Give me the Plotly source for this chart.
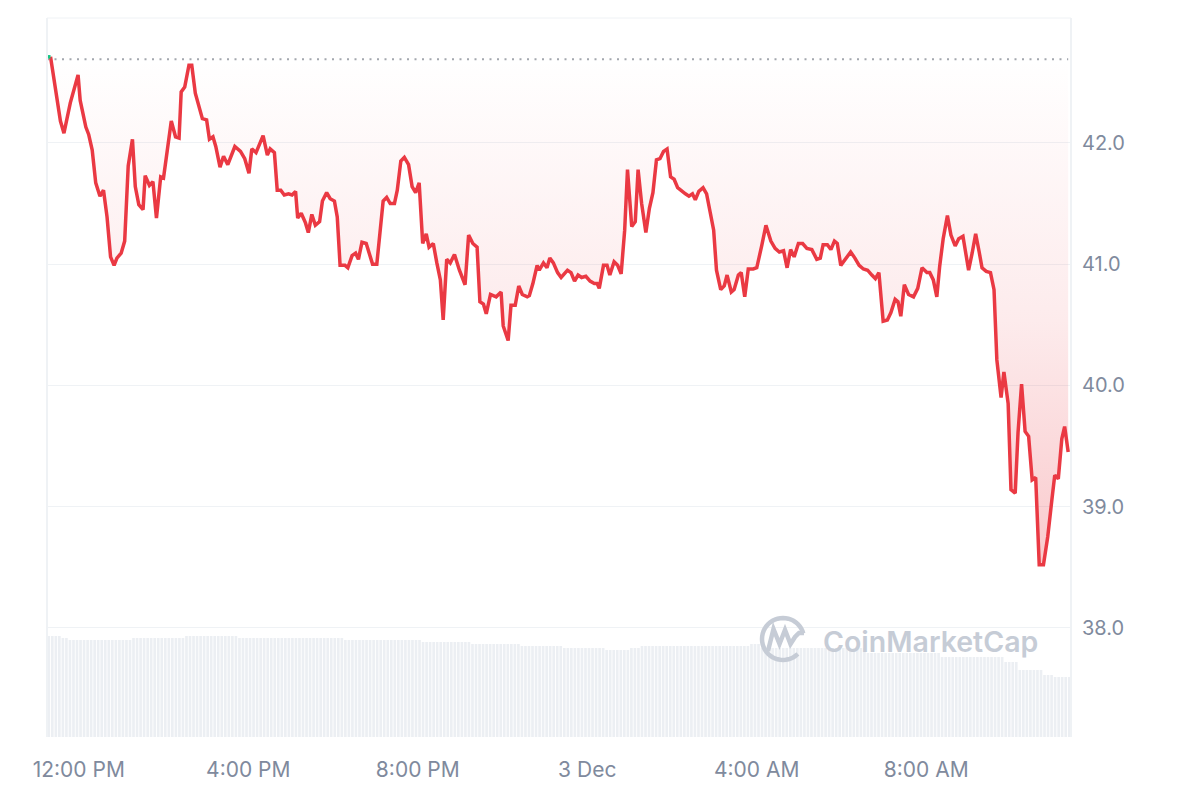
import math
import pandas as pd
import plotly.graph_objects as go

# ---------------- data ----------------
times_dec2 = [
    "11:15", "11:20", "11:34", "11:39", "11:48", "11:59", "12:02", "12:10", "12:14", "12:19",
    "12:24", "12:30", "12:35", "12:40", "12:45", "12:50", "12:54", "13:00", "13:05", "13:10",
    "13:16", "13:20", "13:25", "13:31", "13:34", "13:40", "13:45", "13:50", "13:56", "14:00",
    "14:05", "14:11", "14:17", "14:22", "14:25", "14:30", "14:36", "14:40", "14:45", "14:51",
    "14:55", "15:01", "15:05", "15:10", "15:14", "15:20", "15:25", "15:31", "15:41", "15:49",
    "15:55", "16:01", "16:05", "16:11", "16:21", "16:27", "16:31", "16:37", "16:41", "16:46",
    "16:51", "16:57", "17:02", "17:07", "17:10", "17:15", "17:21", "17:25", "17:30", "17:35",
    "17:41", "17:45", "17:51", "17:56", "18:02", "18:06", "18:10", "18:17", "18:21", "18:27",
    "18:32", "18:36", "18:41", "18:47", "18:51", "18:56", "19:02", "19:11", "19:16", "19:21",
    "19:27", "19:31", "19:36", "19:41", "19:47", "19:52", "19:57", "20:02", "20:07", "20:12",
    "20:16", "20:22", "20:27", "20:32", "20:36", "20:41", "20:46", "20:52", "20:59", "21:07",
    "21:12", "21:18", "21:24", "21:28", "21:33", "21:37", "21:43", "21:51", "21:58", "22:01",
    "22:08", "22:12", "22:18", "22:23", "22:28", "22:35", "22:38", "22:43", "22:49", "22:52",
    "22:58", "23:03", "23:07", "23:12", "23:18", "23:23", "23:29", "23:32", "23:37", "23:42",
    "23:47", "23:52", "23:58",
]
price_dec2 = [
    42.71, 42.71, 42.18, 42.08, 42.33, 42.56, 42.35, 42.13, 42.07, 41.94,
    41.67, 41.56, 41.61, 41.39, 41.06, 40.99, 41.05, 41.09, 41.19, 41.81,
    42.03, 41.64, 41.49, 41.45, 41.73, 41.65, 41.68, 41.38, 41.72, 41.71,
    41.94, 42.18, 42.05, 42.04, 42.42, 42.46, 42.64, 42.64, 42.41, 42.27,
    42.20, 42.19, 42.03, 42.05, 41.97, 41.80, 41.89, 41.82, 41.97, 41.93,
    41.87, 41.75, 41.95, 41.92, 42.06, 41.90, 41.95, 41.92, 41.61, 41.61,
    41.57, 41.58, 41.57, 41.60, 41.38, 41.42, 41.34, 41.26, 41.41, 41.32,
    41.35, 41.52, 41.59, 41.54, 41.52, 41.39, 40.99, 40.99, 40.97, 41.07,
    41.09, 41.04, 41.18, 41.17, 41.10, 41.00, 41.00, 41.52, 41.55, 41.50,
    41.50, 41.61, 41.85, 41.88, 41.82, 41.64, 41.59, 41.67, 41.17, 41.25,
    41.14, 41.17, 41.01, 40.87, 40.54, 41.04, 41.01, 41.08, 40.95, 40.83,
    41.24, 41.17, 41.14, 40.69, 40.67, 40.59, 40.75, 40.73, 40.77, 40.49,
    40.37, 40.66, 40.66, 40.82, 40.75, 40.73, 40.74, 40.84, 40.99, 40.95,
    41.01, 40.97, 41.05, 41.01, 40.93, 40.89, 40.93, 40.95, 40.93, 40.86,
    40.91, 40.89, 40.90,
]
times_dec3 = [
    "00:04", "00:10", "00:14", "00:17", "00:23", "00:28", "00:32", "00:38", "00:43", "00:48",
    "00:53", "00:57", "01:03", "01:08", "01:12", "01:17", "01:23", "01:28", "01:33", "01:38",
    "01:43", "01:48", "01:53", "01:58", "02:03", "02:08", "02:12", "02:19", "02:24", "02:29",
    "02:33", "02:38", "02:44", "02:49", "02:54", "02:59", "03:03", "03:09", "03:14", "03:18",
    "03:24", "03:28", "03:34", "03:38", "03:43", "03:48", "03:55", "04:00", "04:07", "04:13",
    "04:20", "04:26", "04:32", "04:38", "04:43", "04:48", "04:53", "04:59", "05:05", "05:11",
    "05:18", "05:25", "05:30", "05:34", "05:40", "05:45", "05:50", "05:54", "05:59", "06:05",
    "06:13", "06:19", "06:25", "06:31", "06:37", "06:43", "06:48", "06:53", "06:59", "07:05",
    "07:10", "07:16", "07:20", "07:24", "07:29", "07:35", "07:42", "07:48", "07:54", "08:01",
    "08:05", "08:10", "08:15", "08:19", "08:24", "08:30", "08:35", "08:41", "08:46", "08:52",
    "08:56", "09:00", "09:05", "09:10", "09:15", "09:19", "09:25", "09:31", "09:36", "09:40",
    "09:46", "09:50", "09:56", "10:00", "10:06", "10:10", "10:15", "10:20", "10:25", "10:30",
    "10:35", "10:40", "10:46", "10:52", "10:58", "11:02", "11:07", "11:12", "11:16", "11:21",
]
price_dec3 = [
    40.86, 40.84, 40.84, 40.80, 40.99, 40.99, 40.91, 41.02, 40.99, 40.92,
    41.28, 41.78, 41.31, 41.35, 41.78, 41.50, 41.26, 41.46, 41.59, 41.86,
    41.87, 41.93, 41.95, 41.72, 41.70, 41.63, 41.61, 41.58, 41.56, 41.58,
    41.53, 41.60, 41.63, 41.58, 41.43, 41.28, 40.95, 40.79, 40.82, 40.91,
    40.77, 40.79, 40.91, 40.93, 40.73, 40.96, 40.96, 40.97, 41.15, 41.32,
    41.19, 41.13, 41.10, 41.11, 40.97, 41.12, 41.06, 41.17, 41.17, 41.13,
    41.12, 41.04, 41.05, 41.16, 41.16, 41.12, 41.19, 41.17, 40.99, 41.04,
    41.10, 41.05, 40.99, 40.96, 40.95, 40.91, 40.88, 40.93, 40.53, 40.54,
    40.60, 40.71, 40.69, 40.57, 40.83, 40.75, 40.73, 40.80, 40.97, 40.93,
    40.93, 40.87, 40.73, 40.98, 41.21, 41.40, 41.24, 41.15, 41.21, 41.23,
    41.09, 40.95, 41.09, 41.25, 41.10, 40.97, 40.94, 40.93, 40.79, 40.21,
    39.90, 40.11, 39.85, 39.14, 39.11, 39.61, 40.01, 39.62, 39.58, 39.22,
    39.24, 38.52, 38.52, 38.75, 39.06, 39.26, 39.23, 39.56, 39.66, 39.45,
]

# 5-minute volume bars (millions), starting 2 Dec 11:15
volume = [
    10.1, 10.1, 10.1, 10.1, 9.9, 9.9, 9.7, 9.7, 9.7, 9.7, 9.7, 9.7,
    9.7, 9.7, 9.7, 9.7, 9.7, 9.7, 9.7, 9.7, 9.7, 9.7, 9.7, 9.7,
    9.9, 9.9, 9.9, 9.9, 9.9, 9.9, 9.9, 9.9, 9.9, 9.9, 9.9, 9.9,
    9.9, 9.9, 9.9, 10.1, 10.1, 10.1, 10.1, 10.1, 10.1, 10.1, 10.1, 10.1,
    10.1, 10.1, 10.1, 10.1, 10.1, 10.1, 9.9, 9.9, 9.9, 9.9, 9.9, 9.9,
    9.9, 9.9, 9.9, 9.9, 9.9, 9.9, 9.9, 9.9, 9.9, 9.9, 9.9, 9.9,
    9.9, 9.9, 9.9, 9.9, 9.9, 9.9, 9.9, 9.9, 9.9, 9.9, 9.9, 9.9,
    9.7, 9.7, 9.7, 9.7, 9.7, 9.7, 9.7, 9.7, 9.7, 9.7, 9.7, 9.7,
    9.7, 9.7, 9.7, 9.7, 9.7, 9.7, 9.7, 9.7, 9.7, 9.7, 9.5, 9.5,
    9.5, 9.5, 9.5, 9.5, 9.5, 9.5, 9.5, 9.5, 9.5, 9.5, 9.5, 9.5,
    9.3, 9.3, 9.3, 9.3, 9.3, 9.3, 9.3, 9.3, 9.3, 9.3, 9.3, 9.3,
    9.3, 9.3, 9.1, 9.1, 9.1, 9.1, 9.1, 9.1, 9.1, 9.1, 9.1, 9.1,
    9.1, 9.1, 8.9, 8.9, 8.9, 8.9, 8.9, 8.9, 8.9, 8.9, 8.9, 8.9,
    8.9, 8.9, 8.7, 8.7, 8.7, 8.7, 8.7, 8.7, 8.7, 8.9, 8.9, 8.9,
    9.1, 9.1, 9.1, 9.1, 9.1, 9.1, 9.1, 9.1, 9.1, 9.1, 9.1, 9.1,
    9.1, 9.1, 9.1, 9.1, 9.1, 9.1, 9.1, 9.1, 9.1, 9.1, 9.1, 9.1,
    9.1, 9.1, 9.1, 9.1, 9.1, 9.1, 9.1, 9.3, 9.3, 9.3, 8.9, 8.9,
    8.9, 8.9, 8.9, 8.9, 8.9, 8.9, 8.9, 8.9, 8.9, 8.9, 8.9, 8.9,
    8.9, 8.9, 8.9, 8.9, 8.9, 8.9, 8.9, 8.9, 8.9, 8.9, 8.9, 8.9,
    8.9, 8.9, 8.9, 8.9, 8.4, 8.4, 8.4, 8.4, 8.4, 8.4, 8.4, 8.4,
    8.4, 8.4, 8.4, 8.4, 8.4, 8.4, 8.4, 8.4, 8.4, 8.4, 8.4, 8.4,
    8.4, 8.0, 8.0, 8.0, 8.0, 8.0, 8.0, 8.0, 8.0, 8.0, 8.0, 8.0,
    8.0, 8.0, 8.0, 8.0, 8.0, 8.0, 8.0, 7.5, 7.5, 7.5, 7.5, 6.7,
    6.7, 6.7, 6.7, 6.7, 6.7, 6.7, 6.2, 6.2, 6.2, 6.0, 6.0, 6.0,
    6.0, 6.0,
]

tick_times = ["2024-12-02 12:00", "2024-12-02 16:00", "2024-12-02 20:00",
              "2024-12-03 00:00", "2024-12-03 04:00", "2024-12-03 08:00"]
tick_labels = ["12:00 PM", "4:00 PM", "8:00 PM", "3 Dec", "4:00 AM", "8:00 AM"]
price_ticks = [38.0, 39.0, 40.0, 41.0, 42.0]

# ---------------- build ----------------
times = ["2024-12-02 " + t for t in times_dec2] + ["2024-12-03 " + t for t in times_dec3]
prices = price_dec2 + price_dec3
open_price = prices[0]
vol_times = pd.date_range("2024-12-02 11:17:30", periods=len(volume), freq="5min")

RED = "#ea3943"
GREEN = "#16c784"
GRID = "#eff2f5"
TXT = "#808a9d"
FONT = "Inter"

fig = go.Figure()

fig.add_trace(go.Bar(
    x=vol_times, y=volume, yaxis="y2",
    marker=dict(color="#eceff3", line=dict(width=0)),
    hoverinfo="skip", showlegend=False,
))

fig.add_trace(go.Scatter(
    x=[times[0], times[-1]], y=[open_price - 0.02, open_price - 0.02],
    mode="lines", line=dict(color="#a3a7ae", width=2, dash="2px,5.5px"),
    hoverinfo="skip", showlegend=False,
))

fig.add_trace(go.Scatter(
    x=times[1:], y=prices[1:], mode="lines",
    line=dict(color=RED, width=3.5),
    fill="tonexty",
    fillgradient=dict(
        type="vertical",
        start=38.4, stop=42.7,
        colorscale=[[0, "rgba(234,57,67,0.28)"], [0.5, "rgba(234,57,67,0.10)"],
                    [1, "rgba(234,57,67,0.0)"]],
    ),
    showlegend=False,
))

fig.add_trace(go.Scatter(
    x=times[:2], y=prices[:2], mode="lines",
    line=dict(color=GREEN, width=3.5), showlegend=False,
))

# page body has an 8px margin; figure is sized to fit the 1200x800 window
OFF = 8
FW, FH = 1200 - 2 * OFF, 800 - 2 * OFF
L, R, T, B = 47 - OFF, 1071 - OFF, 18 - OFF, 737 - OFF
W, H = R - L, B - T


def px(x):
    return (x - OFF - L) / W


def py(y):
    return (B - (y - OFF)) / H


shapes = [
    dict(type="line", xref="paper", yref="paper", x0=0, x1=0, y0=0, y1=1,
         line=dict(color=GRID, width=2)),
    dict(type="line", xref="paper", yref="paper", x0=1, x1=1, y0=0, y1=1,
         line=dict(color=GRID, width=2)),
    dict(type="line", xref="paper", yref="paper", x0=0, x1=1, y0=1, y1=1,
         line=dict(color=GRID, width=1)),
]

# CoinMarketCap logo: open ring + "M" wave
cx, cy, r = 783, 639, 21
pts = []
for k in range(0, 41):
    a = math.radians(15 + k * (300 / 40))
    pts.append((cx + r * math.cos(a), cy - r * math.sin(a)))
ring = "M " + " L ".join(f"{px(x):.5f},{py(y):.5f}" for x, y in pts)
wave_px = [(768, 651), (773.5, 629), (779.5, 644), (785, 630), (790.5, 644), (795, 637),
           (799, 633), (804, 633)]
wave = "M " + " L ".join(f"{px(x):.5f},{py(y):.5f}" for x, y in wave_px)
LOGO = "#c6ccd6"
shapes.append(dict(type="path", xref="paper", yref="paper", path=ring,
                   line=dict(color=LOGO, width=4.5), layer="above"))
shapes.append(dict(type="path", xref="paper", yref="paper", path=wave,
                   line=dict(color=LOGO, width=4.5), layer="above"))

fig.update_layout(
    width=FW, height=FH,
    margin=dict(l=L, r=FW - R, t=T, b=FH - B),
    paper_bgcolor="white", plot_bgcolor="white",
    font=dict(family=FONT, color=TXT, size=20),
    bargap=0.25,
    showlegend=False,
    xaxis=dict(
        type="date",
        range=["2024-12-02 11:15", "2024-12-03 11:25"],
        tickvals=tick_times, ticktext=tick_labels,
        showgrid=False, zeroline=False, showline=False,
        ticks="", ticklabelstandoff=18,
        tickfont=dict(family=FONT, size=21, color=TXT),
    ),
    yaxis=dict(
        side="right", range=[37.10, 43.03],
        tickvals=price_ticks, tickformat=".1f",
        showgrid=True, gridcolor=GRID, gridwidth=1,
        zeroline=False, showline=False, ticks="",
        ticklabelstandoff=10,
        tickfont=dict(family=FONT, size=20, color=TXT),
    ),
    yaxis2=dict(
        overlaying="y", range=[0, 71.9], visible=False,
    ),
    shapes=shapes,
    annotations=[dict(
        x=px(821), y=py(641), xref="paper", yref="paper",
        xanchor="left", yanchor="middle", showarrow=False,
        text="CoinMarketCap",
        font=dict(family=FONT, size=28.5, color=LOGO, weight=600),
    )],
)

fig.write_html("out.html")
